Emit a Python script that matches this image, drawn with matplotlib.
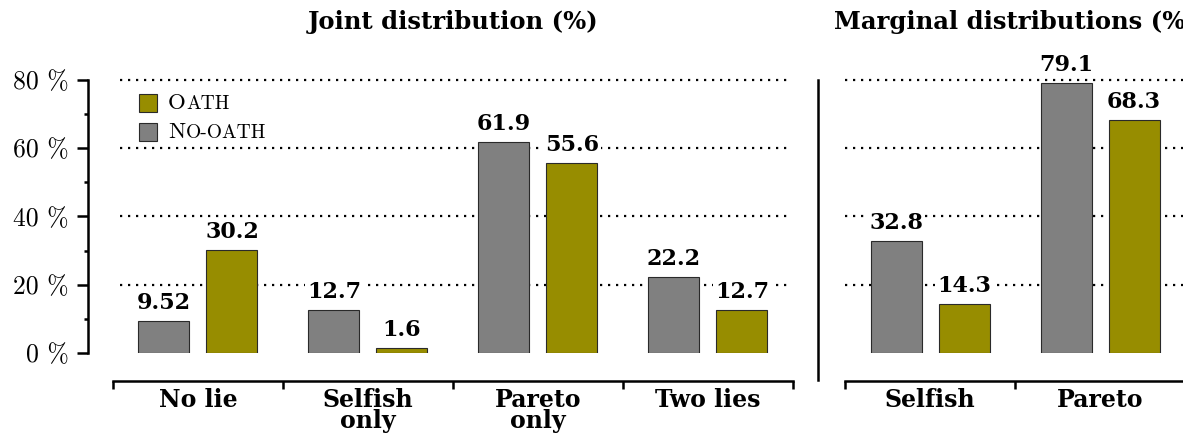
import numpy as np
import matplotlib.pyplot as plt
from matplotlib.offsetbox import HPacker, VPacker, TextArea, DrawingArea, AnchoredOffsetbox
from matplotlib.patches import Rectangle
from matplotlib.lines import Line2D

# data
joint_cats = ['No lie', 'Selfish\nonly', 'Pareto\nonly', 'Two lies']
joint_nooath = [9.52, 12.7, 61.9, 22.2]
joint_oath = [30.2, 1.6, 55.6, 12.7]
joint_nooath_lbl = ['9.52', '12.7', '61.9', '22.2']
joint_oath_lbl = ['30.2', '1.6', '55.6', '12.7']

marg_cats = ['Selfish', 'Pareto']
marg_nooath = [32.8, 79.1]
marg_oath = [14.3, 68.3]
marg_nooath_lbl = ['32.8', '79.1']
marg_oath_lbl = ['14.3', '68.3']

yticks = [0, 20, 40, 60, 80]

GRAY = '#808080'
OLIVE = '#978D00'
REG = 'cmr10'
BOLD = dict(family='DejaVu Serif', weight='bold')

W, H = 1183, 436
fig = plt.figure(figsize=(W / 100, H / 100), dpi=100)

px = 273 / 80          # pixels per percent
y0 = 353               # pixel row of 0 %
ytop = 90
def ax_rect(left_px, x_lo, x_hi):
    width = (x_hi - x_lo) * 170
    return [left_px / W, (H - y0) / H, width / W, ytop * px / H]

axL = fig.add_axes(ax_rect(88, -0.647, 3.55))
axR = fig.add_axes(ax_rect(818, -0.659, 1.75))
axL.set_xlim(-0.647, 3.55)
axR.set_xlim(-0.659, 1.75)


def draw_panel(ax, cats, nooath, oath, nlbl, olbl, grid_lo, grid_hi):
    x = np.arange(len(cats))
    ax.set_ylim(0, ytop)
    for v in yticks[1:]:
        ax.plot([grid_lo, grid_hi], [v, v], ls=(0, (1, 2.6)), color='black',
                lw=1.6, zorder=1)
    ax.bar(x - 0.2, nooath, 0.3, color=GRAY, edgecolor='#2a2a2a', lw=0.8, zorder=3)
    ax.bar(x + 0.2, oath, 0.3, color=OLIVE, edgecolor='#2a2a2a', lw=0.8, zorder=3)
    for xs, vals, lbls in ((x - 0.2, nooath, nlbl), (x + 0.2, oath, olbl)):
        for xi, v, t in zip(xs, vals, lbls):
            ax.annotate(t, (xi, v), xytext=(0, 5), textcoords='offset points',
                        ha='center', va='bottom', fontsize=16, zorder=4,
                        bbox=dict(fc='white', ec='none', pad=1.5), **BOLD)
    for s in ('top', 'right'):
        ax.spines[s].set_visible(False)
    ax.spines['bottom'].set_position(('outward', 20))
    ax.spines['bottom'].set_bounds(-0.5, len(cats) - 0.5)
    ax.spines['bottom'].set_linewidth(1.8)
    ax.set_xticks(np.arange(len(cats) + 1) - 0.5)
    ax.set_xticklabels([])
    ax.set_xticks(x, minor=True)
    ax.set_xticklabels(cats, minor=True, fontsize=17, linespacing=0.85, **BOLD)
    ax.tick_params(axis='x', which='major', length=6, width=1.8, direction='out')
    ax.tick_params(axis='x', which='minor', length=0, pad=5)


draw_panel(axL, joint_cats, joint_nooath, joint_oath, joint_nooath_lbl,
           joint_oath_lbl, -0.46, 3.48)
draw_panel(axR, marg_cats, marg_nooath, marg_oath, marg_nooath_lbl,
           marg_oath_lbl, -0.5, 1.9)

# left y axis
axL.spines['left'].set_bounds(0, 80)
axL.spines['left'].set_linewidth(1.8)
axL.set_yticks(yticks)
axL.set_yticklabels([f'{v} %' for v in yticks], family=REG, fontsize=18.5)
axL.set_yticks([10, 30, 50, 70], minor=True)
axL.tick_params(axis='y', which='major', length=8, width=1.8, pad=6)
axL.tick_params(axis='y', which='minor', length=3, width=1.8)

# right panel: separator line only
axR.spines['left'].set_visible(False)
axR.set_yticks([])
fig.add_artist(Line2D([818 / W, 818 / W], [(H - 80) / H, (H - 380) / H],
                      color='black', lw=1.8))

# titles
fig.text(453 / W, (H - 22) / H, 'Joint distribution (%)', ha='center',
         va='center', fontsize=17.5, **BOLD)
fig.text(1015 / W, (H - 22) / H, 'Marginal distributions (%)', ha='center',
         va='center', fontsize=17.5, **BOLD)


# legend with small caps
def sc_row(color, first, rest):
    da = DrawingArea(13, 13, 0, 0)
    da.add_artist(Rectangle((0, 0), 13, 13, fc=color, ec='#2a2a2a', lw=0.8))
    t1 = TextArea(first, textprops=dict(family=REG, fontsize=16.5))
    t2 = TextArea(rest, textprops=dict(family=REG, fontsize=14))
    return HPacker(children=[da, HPacker(children=[t1, t2], pad=0, sep=0,
                                          align='baseline')],
                   pad=0, sep=8, align='center')

leg = VPacker(children=[sc_row(OLIVE, 'O', 'ATH'), sc_row(GRAY, 'N', 'O-OATH')],
              pad=0, sep=7, align='left')
ab = AnchoredOffsetbox(loc='upper left', child=leg, frameon=False,
                       bbox_to_anchor=(139 / W, (H - 93) / H),
                       bbox_transform=fig.transFigure, borderpad=0, pad=0)
fig.add_artist(ab)

fig.savefig('out.png', dpi=100)
